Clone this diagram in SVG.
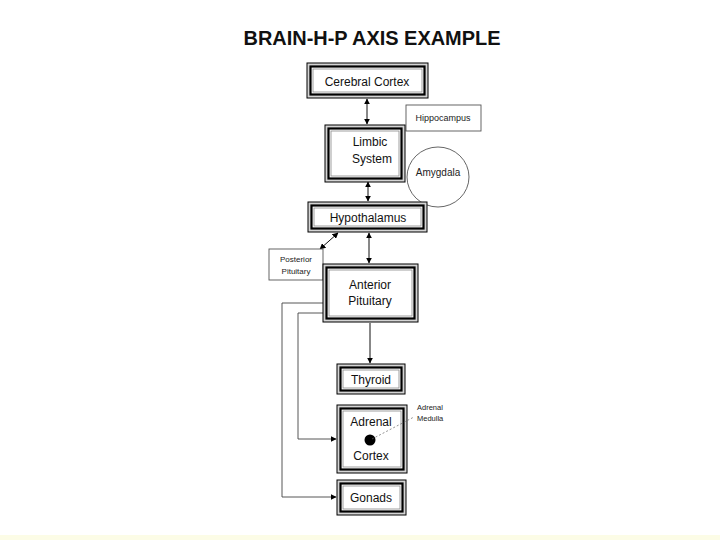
<svg xmlns="http://www.w3.org/2000/svg" width="720" height="540" viewBox="0 0 720 540">
<style>
.o{fill:#d4d4d4;stroke:#000;stroke-width:1}
.i{fill:#fff;stroke:#000;stroke-width:2.2}
.g{fill:none;stroke:#888;stroke-width:0.8}
.t{font-family:"Liberation Sans","DejaVu Sans",sans-serif;font-size:12px;fill:#111;text-anchor:middle}
.s{font-family:"Liberation Sans","DejaVu Sans",sans-serif;font-size:8px;fill:#222;text-anchor:middle}
.st{font-family:"Liberation Sans","DejaVu Sans",sans-serif;font-size:7.5px;fill:#222;text-anchor:start}
.thin{fill:#fff;stroke:#555;stroke-width:0.9}
.c{fill:none;stroke:#111;stroke-width:1}
.cl{fill:none;stroke:#444;stroke-width:0.9}
</style>
<defs>
<marker id="ah" viewBox="0 0 10 10" refX="9" refY="5" markerWidth="6" markerHeight="6" orient="auto-start-reverse" markerUnits="userSpaceOnUse">
<path d="M0,0 L10,5 L0,10 z" fill="#000"/>
</marker>
</defs>
<rect x="0" y="0" width="720" height="540" fill="#fff"/>
<rect x="0" y="535" width="720" height="5" fill="#fcfce6"/>
<text x="372" y="45" font-family="'Liberation Sans',Arial,sans-serif" font-weight="bold" font-size="20" text-anchor="middle" textLength="257" lengthAdjust="spacingAndGlyphs" fill="#111">BRAIN-H-P AXIS EXAMPLE</text>

<g id="connectors">
<line class="c" x1="367" y1="99" x2="367" y2="124" marker-start="url(#ah)" marker-end="url(#ah)"/>
<line class="c" x1="368" y1="182" x2="368" y2="201" marker-start="url(#ah)" marker-end="url(#ah)"/>
<line class="c" x1="338" y1="233" x2="320" y2="249" marker-start="url(#ah)" marker-end="url(#ah)"/>
<line class="c" x1="369" y1="233" x2="369" y2="263" marker-start="url(#ah)" marker-end="url(#ah)"/>
<line class="c" x1="370" y1="323" x2="370" y2="363" marker-end="url(#ah)"/>
<polyline class="cl" points="323,303 282,303 282,497 336,497" marker-end="url(#ah)"/>
<polyline class="cl" points="323,313 298,313 298,439 336,439" marker-end="url(#ah)"/>
</g>

<g id="cerebral-cortex">
<rect class="o" x="307" y="63" width="121" height="35"/>
<rect class="i" x="310.5" y="66.5" width="114" height="28"/>
<rect class="g" x="313" y="69" width="109" height="23"/>
<text class="t" x="367" y="86">Cerebral Cortex</text>
</g>

<g id="hippocampus">
<rect class="thin" x="406" y="105" width="75" height="26"/>
<text class="s" x="443" y="121" style="font-size:9px">Hippocampus</text>
</g>

<g id="limbic-system">
<rect class="o" x="325" y="125" width="80" height="57"/>
<rect class="i" x="328.5" y="128.5" width="73" height="50"/>
<rect class="g" x="331" y="131" width="68" height="45"/>
<text class="t" x="370" y="146">Limbic</text>
<text class="t" x="372" y="163">System</text>
</g>

<g id="amygdala">
<ellipse cx="438" cy="177" rx="31" ry="30" fill="#fff" stroke="#555" stroke-width="0.9"/>
<text class="s" x="438" y="176" style="font-size:10px">Amygdala</text>
</g>

<g id="hypothalamus">
<rect class="o" x="308" y="202" width="119" height="30"/>
<rect class="i" x="311.5" y="205.5" width="112" height="23"/>
<rect class="g" x="314" y="208" width="107" height="18"/>
<text class="t" x="368" y="222">Hypothalamus</text>
</g>

<g id="posterior-pituitary">
<rect class="thin" x="269" y="249" width="54" height="31"/>
<text class="s" x="296" y="262">Posterior</text>
<text class="s" x="296" y="274">Pituitary</text>
</g>

<g id="anterior-pituitary">
<rect class="o" x="323" y="264" width="95" height="58"/>
<rect class="i" x="326.5" y="267.5" width="88" height="51"/>
<rect class="g" x="329" y="270" width="83" height="46"/>
<text class="t" x="370" y="289">Anterior</text>
<text class="t" x="370" y="305">Pituitary</text>
</g>

<g id="thyroid">
<rect class="o" x="337" y="364" width="68" height="30"/>
<rect class="i" x="340.5" y="367.5" width="61" height="23"/>
<rect class="g" x="343" y="370" width="56" height="18"/>
<text class="t" x="371" y="384">Thyroid</text>
</g>

<g id="adrenal">
<rect class="o" x="337" y="405" width="70" height="68"/>
<rect class="i" x="340.5" y="408.5" width="63" height="61"/>
<rect class="g" x="343" y="411" width="58" height="56"/>
<text class="t" x="371" y="426">Adrenal</text>
<circle cx="370" cy="440" r="5.5" fill="#000"/>
<text class="t" x="371" y="460">Cortex</text>
</g>

<g id="adrenal-medulla">
<line x1="372" y1="439" x2="414" y2="417" stroke="#666" stroke-width="0.7" stroke-dasharray="2,2"/>
<text class="st" x="417" y="410">Adrenal</text>
<text class="st" x="417" y="421">Medulla</text>
</g>

<g id="gonads">
<rect class="o" x="337" y="480" width="69" height="35"/>
<rect class="i" x="340.5" y="483.5" width="62" height="28"/>
<rect class="g" x="343" y="486" width="57" height="23"/>
<text class="t" x="371" y="502">Gonads</text>
</g>
</svg>
